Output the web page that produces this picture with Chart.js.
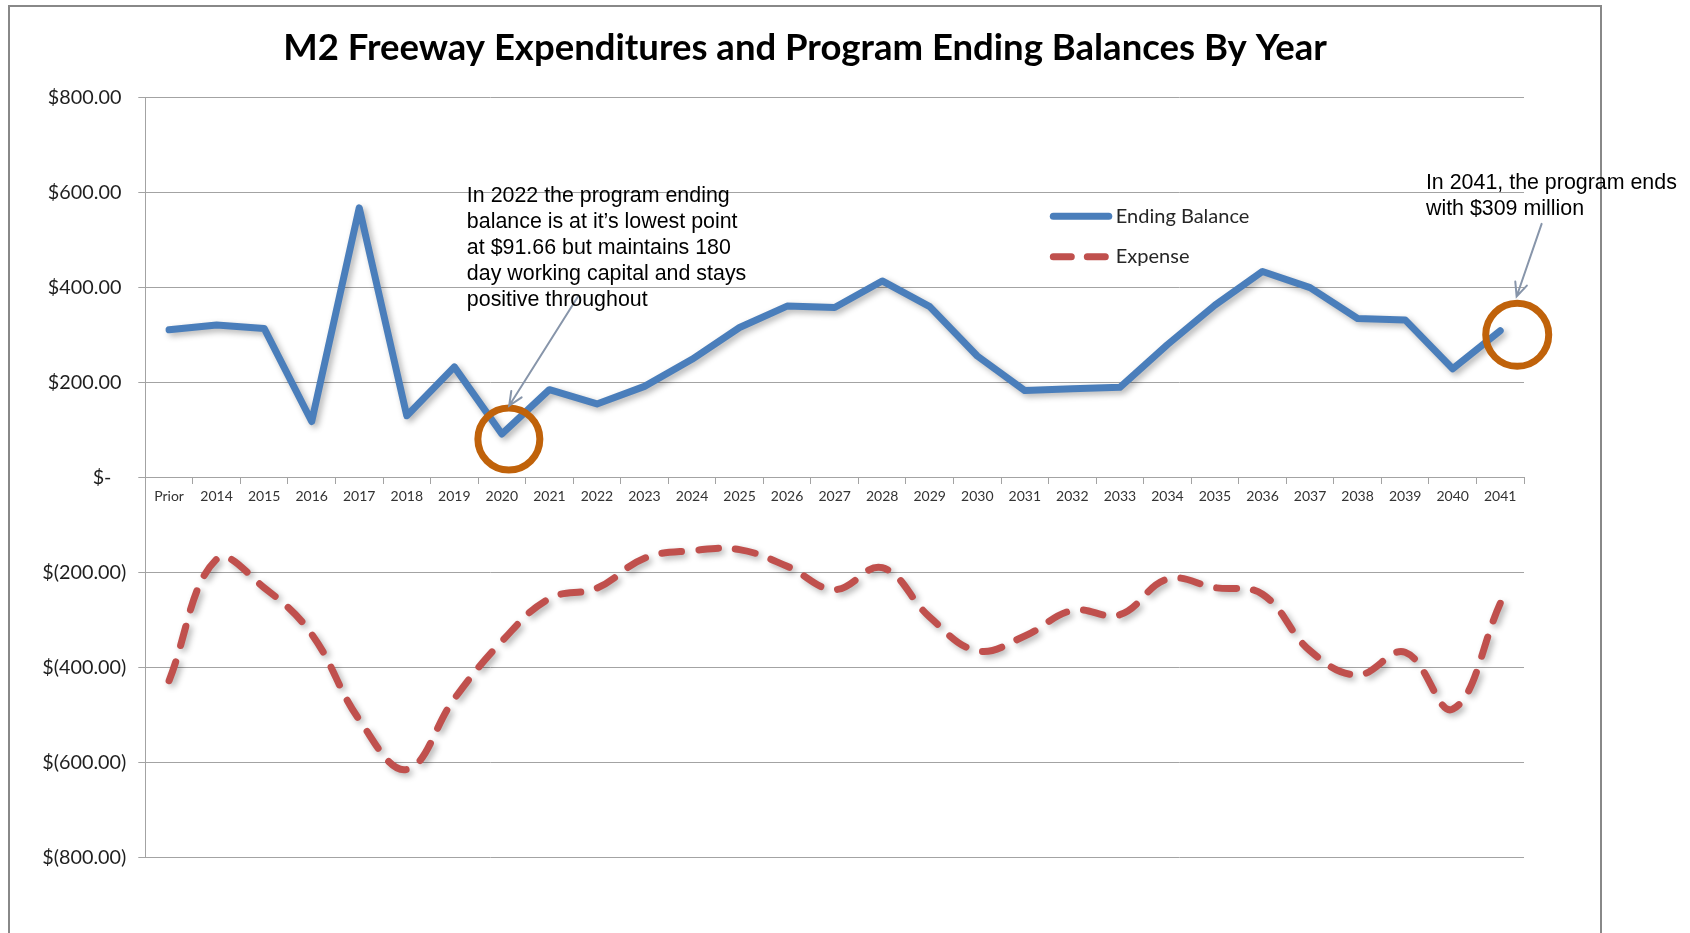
<!DOCTYPE html>
<html>
<head>
<meta charset="utf-8">
<script src="https://cdn.jsdelivr.net/npm/chart.js@4.4.1/dist/chart.umd.min.js"></script>
<style>
  html, body { margin: 0; padding: 0; background: #fff; }
</style>
</head>
<body>
<canvas id="chart" width="1690" height="933"></canvas>
<script>
// data (values in $ millions)
const years = ["Prior", "2014", "2015", "2016", "2017", "2018", "2019", "2020", "2021", "2022",
  "2023", "2024", "2025", "2026", "2027", "2028", "2029", "2030", "2031", "2032",
  "2033", "2034", "2035", "2036", "2037", "2038", "2039", "2040", "2041"];
const endingBalance = [311, 321, 314, 118, 568, 130, 233, 91.66, 185, 155,
  192, 249, 316, 361, 358, 414, 360, 256, 183, 187,
  190, 280, 363, 434, 400, 335, 332, 229, 309];
const expense = [-428, -172, -232, -330, -510, -615, -466, -345, -255, -233,
  -170, -154, -152, -187, -236, -190, -294, -365, -334, -280,
  -289, -214, -232, -246, -365, -416, -368, -488, -265];
const yMin = -800, yMax = 800, yStep = 200;

const titleText = "M2 Freeway Expenditures and Program Ending Balances By Year";
const note1 = ["In 2022 the program ending", "balance is at it\u2019s lowest point",
  "at $91.66 but maintains 180", "day working capital and stays", "positive throughout"];
const note2 = ["In 2041, the program ends", "with $309 million"];

const blue = "#4a7ebb";
const red = "#c0504d";
const gridGray = "#a3a3a3";
const ringColor = "#c0620a";
const arrowColor = "#8795aa";

function money(v) {
  if (v === 0) return "$-\u2002\u2005";
  if (v < 0) return "$(" + Math.abs(v).toFixed(2) + ")";
  return "$" + v.toFixed(2) + "\u2005";
}

// page frame, white background and the title (centred in the frame)
const framePlugin = {
  id: "frame",
  beforeDraw(chart) {
    const ctx = chart.ctx;
    ctx.save();
    ctx.fillStyle = "#fff";
    ctx.fillRect(0, 0, chart.width, chart.height);
    ctx.strokeStyle = "#888";
    ctx.lineWidth = 2;
    ctx.strokeRect(9, 6, 1592, 1000);
    ctx.fillStyle = "#000";
    ctx.font = "bold 36.5px Lato";
    ctx.textAlign = "center";
    ctx.textBaseline = "middle";
    ctx.fillText(titleText, 805, 48.5);
    ctx.restore();
  }
};

// soft drop shadow like the office chart
const shadowPlugin = {
  id: "lineShadow",
  beforeDatasetDraw(chart) {
    const ctx = chart.ctx;
    ctx.save();
    ctx.shadowColor = "rgba(0,0,0,0.3)";
    ctx.shadowBlur = 6;
    ctx.shadowOffsetX = 3;
    ctx.shadowOffsetY = 3;
  },
  afterDatasetDraw(chart) {
    chart.ctx.restore();
  }
};

// legend inside the plot area
const legendPlugin = {
  id: "innerLegend",
  afterDraw(chart) {
    const ctx = chart.ctx;
    const area = chart.chartArea;
    const x0 = area.left + 908;
    const y0 = area.top + 118.5;
    ctx.save();
    chart.data.datasets.forEach((ds, i) => {
      const y = y0 + i * 40.5;
      const dashed = ds.borderDash && ds.borderDash.length;
      ctx.beginPath();
      ctx.lineWidth = 7;
      ctx.lineCap = "round";
      ctx.strokeStyle = ds.borderColor;
      ctx.setLineDash(dashed ? [18, 16] : []);
      ctx.moveTo(x0, y);
      ctx.lineTo(dashed ? x0 + 52 : x0 + 55.5, y);
      ctx.stroke();
      ctx.setLineDash([]);
      ctx.fillStyle = "#262626";
      ctx.font = "20px Lato";
      ctx.textBaseline = "middle";
      ctx.fillText(ds.label, x0 + 62.5, y);
    });
    ctx.restore();
  }
};

// callouts, anchored to the 2020 and 2041 points
function arrow(ctx, x1, y1, x2, y2) {
  ctx.beginPath();
  ctx.moveTo(x1, y1);
  ctx.lineTo(x2, y2);
  const a = Math.atan2(y2 - y1, x2 - x1);
  const len = 15, spread = 0.42;
  ctx.moveTo(x2 - len * Math.cos(a - spread), y2 - len * Math.sin(a - spread));
  ctx.lineTo(x2, y2);
  ctx.lineTo(x2 - len * Math.cos(a + spread), y2 - len * Math.sin(a + spread));
  ctx.stroke();
}

const calloutPlugin = {
  id: "callouts",
  afterDraw(chart) {
    const ctx = chart.ctx;
    const xs = chart.scales.x, ys = chart.scales.y;
    const callouts = [
      { index: 7, value: 81, dx: 7, r: 31, text: note1, tx: -42, ty: -237, a: [69, -142.3, 0.3, -33.3] },
      { index: 28, value: 300.5, dx: 17, r: 31.5, text: note2, tx: -91.3, ty: -145.7, a: [24.4, -111, -0.6, -38.3] }
    ];
    ctx.save();
    callouts.forEach(c => {
      const cx = xs.getPixelForValue(c.index) + c.dx;
      const cy = ys.getPixelForValue(c.value);
      ctx.beginPath();
      ctx.lineWidth = 7;
      ctx.strokeStyle = ringColor;
      ctx.arc(cx, cy, c.r, 0, Math.PI * 2);
      ctx.stroke();

      ctx.lineWidth = 2;
      ctx.strokeStyle = arrowColor;
      ctx.lineCap = "round";
      arrow(ctx, cx + c.a[0], cy + c.a[1], cx + c.a[2], cy + c.a[3]);

      ctx.fillStyle = "#000";
      ctx.font = "21.4px 'Liberation Sans', Arial, sans-serif";
      ctx.textBaseline = "alphabetic";
      c.text.forEach((line, i) => {
        ctx.fillText(line, cx + c.tx, cy + c.ty + i * 25.9);
      });
    });
    ctx.restore();
  }
};

new Chart("chart", {
  type: "line",
  data: {
    labels: years,
    datasets: [{
      label: "Ending Balance",
      data: endingBalance,
      borderColor: blue,
      backgroundColor: blue,
      borderWidth: 7,
      borderJoinStyle: "round",
      borderCapStyle: "round",
      pointRadius: 0,
      tension: 0,
      fill: false
    }, {
      label: "Expense",
      data: expense,
      borderColor: red,
      backgroundColor: red,
      borderWidth: 7,
      borderDash: [20, 17],
      borderCapStyle: "round",
      pointRadius: 0,
      tension: 0.4,
      fill: false
    }]
  },
  options: {
    responsive: false,
    animation: false,
    layout: { padding: { left: 0, right: 166, top: 97.7, bottom: 75.7 } },
    plugins: {
      legend: { display: false },
      tooltip: { enabled: false },
      title: { display: false }
    },
    scales: {
      x: {
        type: "category",
        position: { y: 0 },
        offset: true,
        grid: { offset: true, drawOnChartArea: false, drawTicks: true, tickLength: 6, color: gridGray },
        border: { color: gridGray, width: 1 },
        ticks: {
          autoSkip: false,
          maxRotation: 0,
          padding: 5,
          color: "#333",
          font: { family: "Lato", size: 14 }
        }
      },
      y: {
        min: yMin,
        max: yMax,
        afterFit(scale) { scale.width = 145.3; },
        grid: { color: gridGray, tickLength: 7, lineWidth: 1 },
        border: { color: gridGray, width: 1 },
        ticks: {
          stepSize: yStep,
          padding: 12,
          color: "#1f1f1f",
          font: { family: "Lato", size: 19.8 },
          callback: v => money(v)
        }
      }
    }
  },
  plugins: [framePlugin, shadowPlugin, legendPlugin, calloutPlugin]
});
</script>
</body>
</html>
